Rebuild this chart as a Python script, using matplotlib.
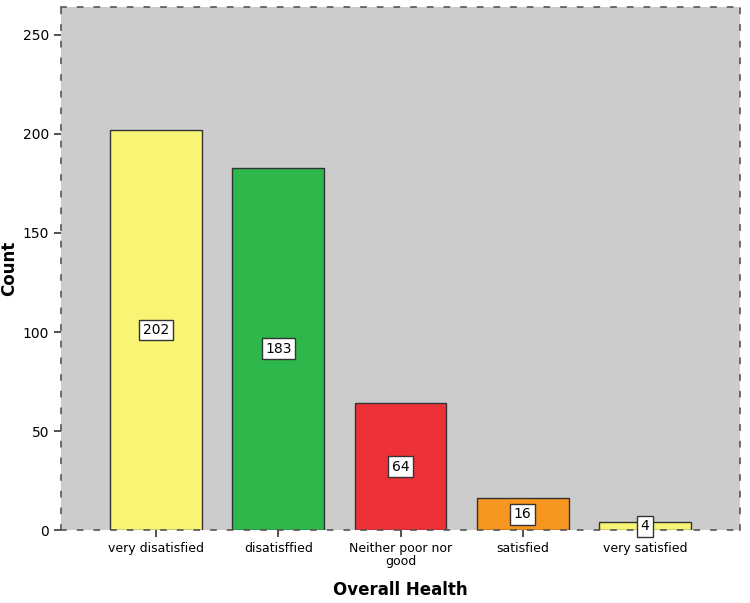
import matplotlib.pyplot as plt

categories = ['very disatisfied', 'disatisffied', 'Neither poor nor\ngood', 'satisfied', 'very satisfied']
counts = [202, 183, 64, 16, 4]
bar_colors = ['#f8f574', '#2eb84b', '#ee3039', '#f7961f', '#f8f574']

fig = plt.figure(figsize=(7.5, 6.03), dpi=100)
ax = fig.add_axes([0.081, 0.121, 0.906, 0.867])
ax.set_facecolor('#cccccc')

x = range(len(categories))
ax.bar(x, counts, width=0.75, color=bar_colors, edgecolor='#333333', linewidth=1, zorder=2)

for xi, c in zip(x, counts):
    ax.text(xi, c / 2, str(c), ha='center', va='center', fontsize=10, zorder=3,
            bbox=dict(boxstyle='square,pad=0.25', fc='white', ec='#333333', lw=1))

ax.set_xlim(-0.78, 4.78)
ax.set_ylim(0, 264)
ax.set_yticks([0, 50, 100, 150, 200, 250])
ax.set_xticks(list(x))
ax.set_xticklabels(categories, fontsize=9, linespacing=1.05)
ax.tick_params(axis='y', labelsize=10, length=5, width=1.2, color='#333333')
ax.tick_params(axis='x', length=5, width=1.2, color='#333333')

for side in ['top', 'bottom', 'left', 'right']:
    ax.spines[side].set_linestyle((0, (3, 7)))
    ax.spines[side].set_color('#555555')
    ax.spines[side].set_linewidth(1.2)

ax.set_ylabel('Count', fontsize=12, fontweight='bold')
ax.set_xlabel('Overall Health', fontsize=12, fontweight='bold')
ax.yaxis.set_label_coords(-0.063, 0.5)
ax.xaxis.set_label_coords(0.5, -0.097)

fig.savefig('out.png', dpi=100)
